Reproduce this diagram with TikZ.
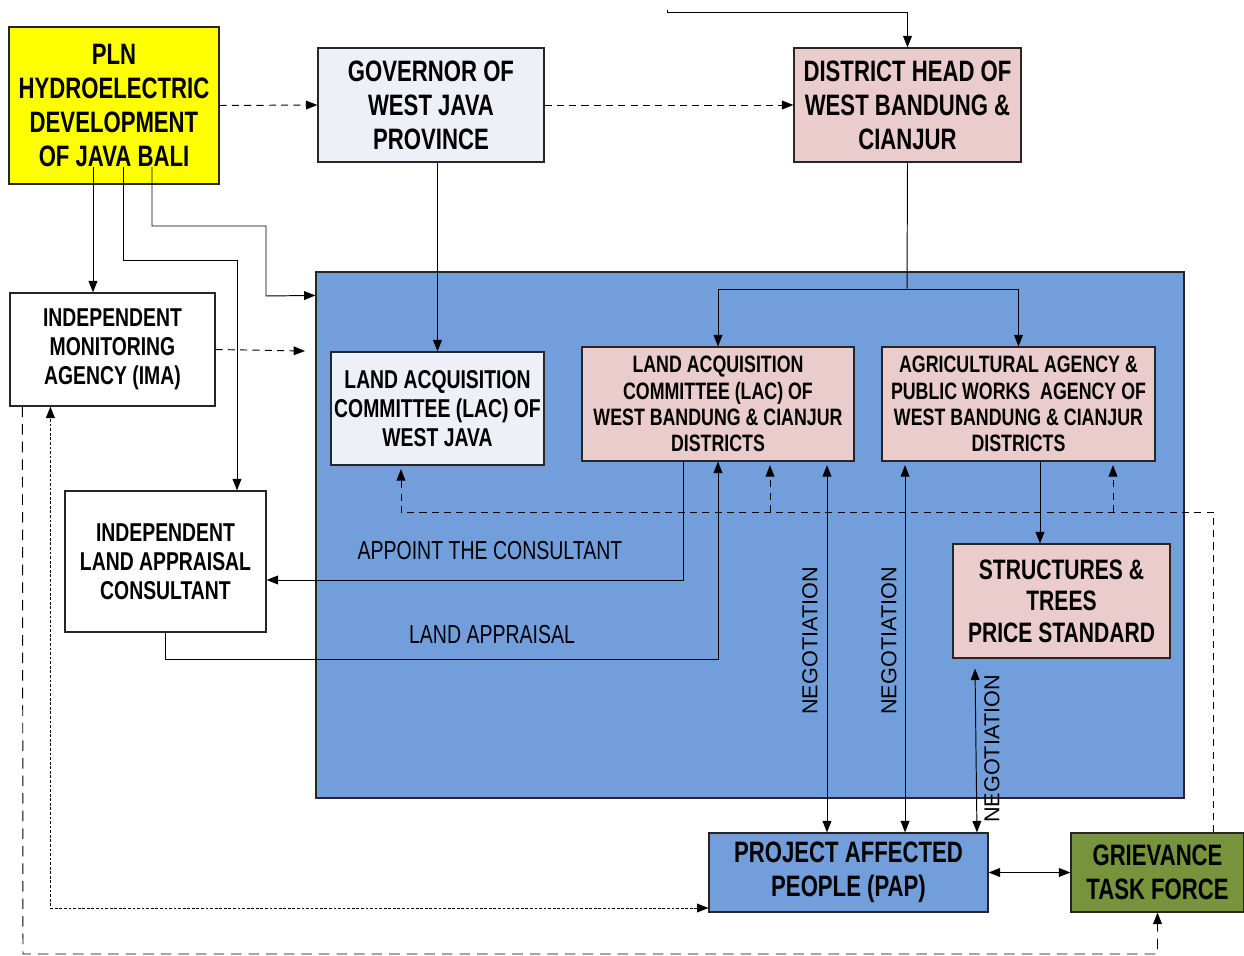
\documentclass[tikz,border=0pt]{standalone}
\usepackage{fontspec}
\setmainfont{Liberation Sans}
\newfontfamily\narrowfont{Liberation Sans}[FakeStretch=0.75]
\usetikzlibrary{arrows.meta}

\definecolor{plnyellow}{RGB}{255,255,0}
\definecolor{govgray}{RGB}{237,240,246}
\definecolor{distpink}{RGB}{235,204,204}
\definecolor{zoneblue}{RGB}{114,159,219}
\definecolor{gtfgreen}{RGB}{119,147,60}

\tikzset{
  box/.style={draw=black!85, line width=0.7pt, align=center, inner sep=0pt},
  bigtext/.style={font=\narrowfont\bfseries\fontsize{16.8}{19.3}\selectfont},
  midtext/.style={font=\narrowfont\bfseries\fontsize{14.7}{16.4}\selectfont},
  smalltext/.style={font=\narrowfont\bfseries\fontsize{13.5}{14.9}\selectfont},
  edgetext/.style={font=\narrowfont\fontsize{14.8}{16}\selectfont},
  negtext/.style={font=\fontsize{12.3}{14}\selectfont, rotate=90},
  tip/.tip={Triangle[length=6.5pt,width=5pt]},
  flow/.style={line width=0.55pt, -tip},
  twoway/.style={line width=0.55pt, tip-tip},
  dashflow/.style={flow, dash pattern=on 4pt off 3pt},
  dotflow/.style={line width=0.5pt, tip-tip, dash pattern=on 1.6pt off 1pt},
  longdash/.style={line width=0.55pt, -tip, dash pattern=on 6pt off 4pt}
}

\begin{document}
\begin{tikzpicture}[x=0.02cm, y=-0.02cm]
  \useasboundingbox (0,0) rectangle (1244,956);

  \node[box, fill=zoneblue, minimum width=17.36cm, minimum height=10.52cm] (zone) at (750,535) {};

  \begin{scope}[every node/.style={box}]
    \node[bigtext, fill=plnyellow, minimum width=4.2cm, minimum height=3.14cm] (pln) at (114,105.5)
      {PLN\\HYDROELECTRIC\\DEVELOPMENT\\OF JAVA BALI};
    \node[bigtext, fill=govgray, minimum width=4.52cm, minimum height=2.28cm] (gov) at (431,105)
      {GOVERNOR OF\\WEST JAVA\\PROVINCE};
    \node[bigtext, fill=distpink, minimum width=4.54cm, minimum height=2.28cm] (dist) at (907.5,105)
      {DISTRICT HEAD OF\\WEST BANDUNG \&\\CIANJUR};
    \node[midtext, fill=white, minimum width=4.1cm, minimum height=2.26cm] (ima) at (112.5,349.5)
      {INDEPENDENT\\MONITORING\\AGENCY (IMA)};
    \node[midtext, fill=govgray, minimum width=4.26cm, minimum height=2.26cm] (lacwj) at (437.5,408.5)
      {LAND ACQUISITION\\COMMITTEE (LAC) OF\\WEST JAVA};
    \node[smalltext, fill=distpink, minimum width=5.44cm, minimum height=2.28cm] (lacwb) at (718,404)
      {LAND ACQUISITION\\COMMITTEE (LAC) OF\\WEST BANDUNG \& CIANJUR\\DISTRICTS};
    \node[smalltext, fill=distpink, minimum width=5.46cm, minimum height=2.28cm] (agri) at (1018.5,404)
      {AGRICULTURAL AGENCY \&\\PUBLIC WORKS~ AGENCY OF\\WEST BANDUNG \& CIANJUR\\DISTRICTS};
    \node[bigtext, font=\narrowfont\bfseries\fontsize{16}{18}\selectfont, fill=distpink,
      minimum width=4.34cm, minimum height=2.28cm] (struct) at (1061.5,601)
      {STRUCTURES \&\\TREES\\PRICE STANDARD};
    \node[midtext, fill=white, minimum width=4.02cm, minimum height=2.82cm] (ilac) at (165.5,561.5)
      {INDEPENDENT\\LAND APPRAISAL\\CONSULTANT};
    \node[bigtext, fill=zoneblue, minimum width=5.58cm, minimum height=1.58cm] (pap) at (848.5,872.5)
      {PROJECT AFFECTED\\PEOPLE (PAP)};
    \node[bigtext, fill=gtfgreen, minimum width=3.46cm, minimum height=1.58cm] (gtf) at (1157.5,872.5)
      {GRIEVANCE\\TASK FORCE};
  \end{scope}

  \coordinate (topin) at (667,10);
  \coordinate (plnA) at (93,167);
  \coordinate (plnB) at (123,167);
  \coordinate (plnC) at (152,167);
  \coordinate (split) at (907,289);
  \coordinate (zonein) at ([yshift=-0.48cm]zone.north west);
  \coordinate (ilacin) at ([xshift=1.43cm]ilac.north);
  \coordinate (imaout) at (305,351);
  \coordinate (appointin) at ([yshift=-0.37cm]ilac.east);
  \coordinate (lacwbout) at ([xshift=-0.7cm]lacwb.south);
  \coordinate (approw) at (0,659);
  \coordinate (dashrow) at (0,512);
  \coordinate (gtftop) at ([xshift=1.11cm]gtf.north);
  \coordinate (lacwjdash) at ([xshift=-0.73cm]lacwj.south);
  \coordinate (lacwbdash) at ([xshift=1.04cm]lacwb.south);
  \coordinate (agridash) at ([xshift=1.89cm]agri.south);
  \coordinate (agriout) at ([xshift=0.43cm]agri.south);
  \coordinate (negA) at ([xshift=2.18cm]lacwb.south);
  \coordinate (negB) at ([xshift=-2.27cm]agri.south);
  \coordinate (negC) at ([xshift=-1.73cm,yshift=-0.2cm]struct.south);
  \coordinate (papneg) at ([xshift=2.57cm]pap.north);
  \coordinate (imadot) at ([xshift=0.82cm]ima.south west);
  \coordinate (papdot) at ([yshift=-0.71cm]pap.west);
  \coordinate (imadash) at ([xshift=0.26cm]ima.south west);
  \coordinate (floor) at (23,954);

  \draw[flow] (topin) -- ++(0,2) -| (dist.north);
  \draw[dashflow] (pln.east) -- (gov.west);
  \draw[dashflow] (gov.east) -- (dist.west);
  \draw[flow] (lacwj.north |- gov.south) -- (lacwj.north);
  \draw[line width=0.55pt] (dist.south) -- (split);
  \draw[flow] (split) -| (lacwb.north);
  \draw[flow] (split) -| (agri.north);
  \draw[flow] (plnA) -- (plnA |- ima.north);
  \draw[flow] (plnB) -- ++(0,93) -| (ilacin);
  \draw[flow] (plnC) -- ++(0,59) -- ++(114,0) -- ++(0,70) -- (zonein);
  \draw[dashflow] (ima.east) -- (imaout);
  \draw[flow] (lacwbout) |- (appointin);
  \draw[flow] (ilac.south) |- (approw -| lacwb.south) -- (lacwb.south);
  \draw[flow] (agriout) -- (agriout |- struct.north);

  \draw[dashflow, shorten >=2pt] (gtftop) |- (dashrow -| lacwjdash) -- (lacwjdash);
  \draw[dashflow, shorten >=2pt] (dashrow -| lacwbdash) -- (lacwbdash);
  \draw[dashflow, shorten >=2pt] (dashrow -| agridash) -- (agridash);

  \draw[twoway, shorten <=2pt] (negA) -- (negA |- pap.north);
  \draw[twoway, shorten <=2pt] (negB) -- (negB |- pap.north);
  \draw[twoway] (negC) -- (papneg);
  \draw[twoway] (pap.east) -- (gtf.west);

  \draw[dotflow] (papdot) -| (imadot);
  \draw[longdash] (imadash) -- (floor) -| (gtf.south);

  \node[edgetext] (appoint) at (490,551) {APPOINT THE CONSULTANT};
  \node[edgetext] (appraisal) at (492,635) {LAND APPRAISAL};
  \node[negtext] (negoA) at (810,641) {NEGOTIATION};
  \node[negtext] (negoB) at (889,641) {NEGOTIATION};
  \node[negtext] (negoC) at (992,749) {NEGOTIATION};
\end{tikzpicture}
\end{document}
